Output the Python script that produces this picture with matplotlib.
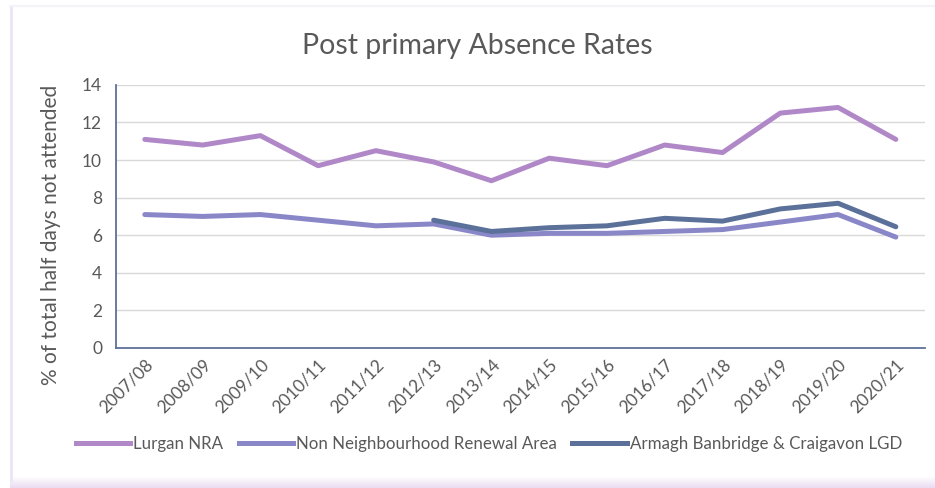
import numpy as np
import matplotlib
matplotlib.use("Agg")
import matplotlib.pyplot as plt
from matplotlib.lines import Line2D
from matplotlib.colors import LinearSegmentedColormap

plt.rcParams['font.family'] = ['Lato', 'DejaVu Sans']

years = ["2007/08", "2008/09", "2009/10", "2010/11", "2011/12", "2012/13", "2013/14",
         "2014/15", "2015/16", "2016/17", "2017/18", "2018/19", "2019/20", "2020/21"]
lurgan_nra = [11.1, 10.8, 11.3, 9.7, 10.5, 9.9, 8.9, 10.1, 9.7, 10.8, 10.4, 12.5, 12.8, 11.1]
non_nra = [7.1, 7.0, 7.1, 6.8, 6.5, 6.6, 6.0, 6.1, 6.1, 6.2, 6.3, 6.7, 7.1, 5.9]
abc_lgd = [np.nan, np.nan, np.nan, np.nan, np.nan, 6.8, 6.2, 6.4, 6.5, 6.9, 6.75, 7.4, 7.7, 6.45]

series_names = ["Lurgan NRA", "Non Neighbourhood Renewal Area", "Armagh Banbridge & Craigavon LGD"]
colors = ["#B088C8", "#8A87C9", "#5C7199"]
text_grey = "#595959"

fig = plt.figure(figsize=(9.35, 4.88), dpi=100)
fig.patch.set_facecolor("white")

# card background with soft lavender edge
bg = fig.add_axes([0, 0, 1, 1], zorder=-10)
bg.set_xlim(0, 935)
bg.set_ylim(488, 0)
bg.axis("off")
grad = np.linspace(0, 1, 20).reshape(-1, 1)
cmap = LinearSegmentedColormap.from_list("edge", ["#FFFFFF", "#EADCF2"])
bg.imshow(grad, extent=[10, 935, 488, 476], cmap=cmap, aspect="auto", zorder=0)
bg.plot([11, 11], [6, 480], color="#EDE4F4", lw=2, zorder=1)
bg.plot([10, 935], [6, 6], color="#F6F2FA", lw=1.5, zorder=1)

ax = fig.add_axes([0.124, 0.287, 0.865, 0.539])
x = np.arange(len(years))
for vals, name, c in zip([lurgan_nra, non_nra, abc_lgd], series_names, colors):
    ax.plot(x, vals, color=c, lw=3.6, solid_capstyle="round", solid_joinstyle="round", label=name)

ax.set_xlim(-0.5, len(years) - 0.5)
ax.set_ylim(0, 14)
ax.set_yticks(np.arange(0, 15, 2))
ax.yaxis.grid(True, color="#D9D9D9", lw=1)
ax.set_axisbelow(True)
for s in ["top", "right"]:
    ax.spines[s].set_visible(False)
for s in ["left", "bottom"]:
    ax.spines[s].set_color("#5C7199")
    ax.spines[s].set_linewidth(1.3)
ax.tick_params(axis="both", length=0, colors=text_grey, labelsize=12.5)
ax.tick_params(axis="y", pad=10)
ax.set_xticks(x)
ax.set_xticklabels(years, rotation=45, ha="right", rotation_mode="anchor")
ax.tick_params(axis="x", pad=6)
ax.set_ylabel("% of total half days not attended", fontsize=15, color=text_grey)
ax.yaxis.set_label_coords(-0.068, 0.43)

fig.text(0.51, 0.905, "Post primary Absence Rates", ha="center", va="center",
         fontsize=20.5, color=text_grey)

handles = [Line2D([0], [0], color=c, lw=3.6) for c in colors]
fig.legend(handles, series_names, loc="center", bbox_to_anchor=(0.523, 0.09), ncol=3,
           frameon=False, fontsize=12.2, labelcolor=text_grey, handlelength=3.2,
           handletextpad=0.2, columnspacing=0.9)

fig.savefig("out.png", dpi=100, facecolor="white")
